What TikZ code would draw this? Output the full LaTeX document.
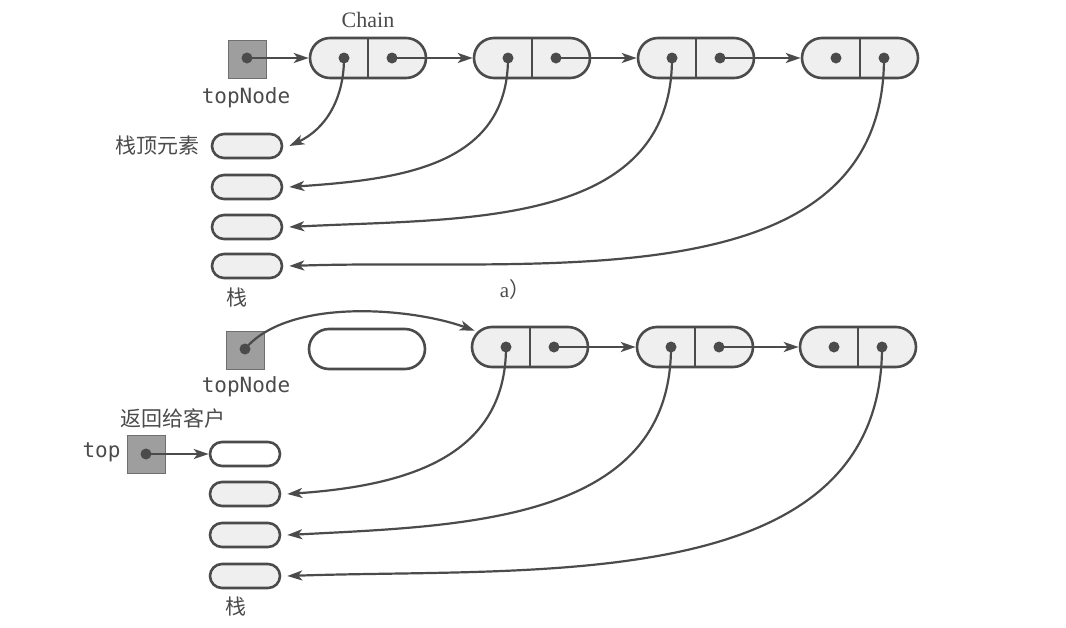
\documentclass[tikz,border=0pt]{standalone}
\usepackage{fontspec}
\setmainfont{Liberation Serif}
\setmonofont{DejaVu Sans Mono}
\newfontfamily\cjk{Noto Sans CJK SC}
\usetikzlibrary{arrows.meta}
\definecolor{linecol}{HTML}{4B4B4B}
\definecolor{cellgray}{HTML}{EFEFEF}
\definecolor{boxgray}{HTML}{9E9E9E}

\begin{document}
\begin{tikzpicture}[x=1pt, y=1pt,
  link/.style={draw=linecol, line width=2.6pt, rounded corners=20pt, fill=cellgray,
    minimum width=116pt, minimum height=40pt, inner sep=0pt},
  gone/.style={link, fill=white},
  cell/.style={draw=linecol, line width=2.6pt, rounded corners=12pt, fill=cellgray,
    minimum width=70pt, minimum height=24pt, inner sep=0pt},
  ptr/.style={draw=linecol!80, line width=1pt, fill=boxgray, minimum size=38pt, inner sep=0pt},
  dot/.style={circle, fill=linecol, minimum size=11pt, inner sep=0pt},
  arr/.style={draw=linecol, line width=2.2pt, -{Stealth[length=15pt, width=10pt, inset=4pt]}},
  lab/.style={text=linecol, font=\fontsize{21}{24}\selectfont\cjk},
  code/.style={text=linecol, font=\fontsize{21}{24}\selectfont\ttfamily}]
  \useasboundingbox (0,0) rectangle (1066,-627);

  \node[ptr] (tn) at (247,-59) {};
  \node[dot] (tnp) at (247,-58) {};
  \node[code] (tnl) at (246,-98) {topNode};

  \node[link] (c1) at (368,-58) {};
  \node[link] (c2) at (532,-58) {};
  \node[link] (c3) at (696,-58) {};
  \node[link] (c4) at (860,-58) {};
  \node[text=linecol, font=\fontsize{22}{24}\selectfont] (chain) at (368,-20) {Chain};

  \foreach \i in {1,...,4} {
    \draw[draw=linecol, line width=2.4pt] (c\i.north) -- (c\i.south);
    \node[dot] (c\i d) at ([xshift=-24pt]c\i.center) {};
    \node[dot] (c\i n) at ([xshift=24pt]c\i.center) {};
  }

  \draw[arr] (tnp.center) -- (c1.west);
  \draw[arr] (c1n.center) -- (c2.west);
  \draw[arr] (c2n.center) -- (c3.west);
  \draw[arr] (c3n.center) -- (c4.west);

  \node[cell] (s1) at (247,-146) {};
  \node[cell] (s2) at (247,-187) {};
  \node[cell] (s3) at (247,-227) {};
  \node[cell] (s4) at (247,-266) {};
  \node[lab, anchor=east] (s1l) at (203,-146) {栈顶元素};
  \node[lab] (s4l) at (237,-298) {栈};

  \draw[arr] (c1d.center) to[out=-90, in=25] ([xshift=6pt]s1.east);
  \draw[arr] (c2d.center) to[out=-90, in=4, looseness=1.1] ([xshift=6pt]s2.east);
  \draw[arr] (c3d.center) to[out=-90, in=3, looseness=1.05] ([xshift=6pt]s3.east);
  \draw[arr] (c4n.center) to[out=-90, in=2] ([xshift=6pt]s4.east);

  \node[text=linecol, font=\fontsize{21}{24}\selectfont] (capa) at (515,-290) {a{\cjk ）}};

  \node[ptr] (tn2) at (245,-350) {};
  \node[dot] (tn2p) at (245,-349) {};
  \node[code] (tn2l) at (246,-387) {topNode};
  \node[gone] (c1x) at (367,-349) {};

  \node[link] (b2) at (530,-347) {};
  \node[link] (b3) at (695,-347) {};
  \node[link] (b4) at (858,-347) {};
  \foreach \i in {2,3,4} {
    \draw[draw=linecol, line width=2.4pt] (b\i.north) -- (b\i.south);
    \node[dot] (b\i d) at ([xshift=-24pt]b\i.center) {};
    \node[dot] (b\i n) at ([xshift=24pt]b\i.center) {};
  }

  \draw[arr] (tn2p.center) to[out=50, in=160, looseness=0.75] ([shift={(4,-5)}]b2.north west);
  \draw[arr] (b2n.center) -- (b3.west);
  \draw[arr] (b3n.center) -- (b4.west);

  \node[ptr] (tp) at (146,-454) {};
  \node[dot] (tpp) at (146,-454) {};
  \node[code, anchor=east] (tpl) at (124,-452) {top};
  \node[lab] (ret) at (173,-418) {返回给客户};

  \node[cell, fill=white] (t1) at (245,-454) {};
  \node[cell] (t2) at (245,-494) {};
  \node[cell] (t3) at (245,-535) {};
  \node[cell] (t4) at (245,-576) {};
  \node[lab] (t4l) at (236,-607) {栈};

  \draw[arr] (tpp.center) -- (t1.west);
  \draw[arr] (b2d.center) to[out=-90, in=4, looseness=1.1] ([xshift=6pt]t2.east);
  \draw[arr] (b3d.center) to[out=-90, in=3, looseness=1.05] ([xshift=6pt]t3.east);
  \draw[arr] (b4n.center) to[out=-90, in=2] ([xshift=6pt]t4.east);
\end{tikzpicture}
\end{document}
